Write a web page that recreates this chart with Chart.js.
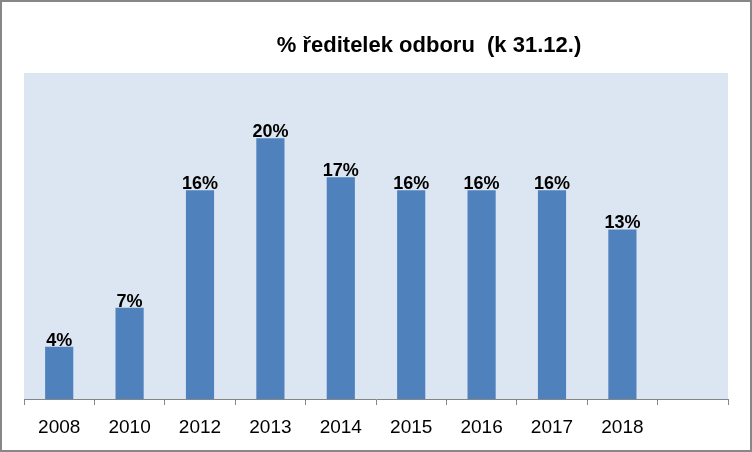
<!DOCTYPE html>
<html>
<head>
<meta charset="utf-8">
<script src="https://cdn.jsdelivr.net/npm/chart.js@4"></script>
<style>
  html, body { margin: 0; padding: 0; background: #fff; }
  #wrap { width: 752px; height: 452px; box-sizing: border-box; border: 2px solid #878787; }
  canvas { display: block; }
</style>
</head>
<body>
<div id="wrap"><canvas id="chart" width="748" height="448"></canvas></div>
<script>
const TITLE = '% ředitelek odboru  (k 31.12.)'
const years = ['2008', '2010', '2012', '2013', '2014', '2015', '2016', '2017', '2018', '']
const shares = [4, 7, 16, 20, 17, 16, 16, 16, 13, null]

const FONT = '"Liberation Sans", Arial, sans-serif'

const plotBg = {
  id: 'plotBg',
  beforeDraw(chart) {
    const { ctx, chartArea: a } = chart
    ctx.save()
    ctx.fillStyle = '#dce6f2'
    ctx.fillRect(a.left, a.top, a.right - a.left, a.bottom - a.top)
    ctx.restore()
  },
}

const labelsAndTitle = {
  id: 'labelsAndTitle',
  afterDatasetsDraw(chart) {
    const { ctx } = chart
    ctx.save()
    ctx.fillStyle = '#000'
    ctx.textAlign = 'center'
    ctx.textBaseline = 'bottom'
    ctx.font = 'bold 18px ' + FONT
    chart.getDatasetMeta(0).data.forEach((bar, i) => {
      if (shares[i] == null) return
      ctx.fillText(shares[i] + '%', bar.x, bar.y + 3)
    })
    ctx.font = 'bold 22px ' + FONT
    ctx.textBaseline = 'middle'
    ctx.fillText(TITLE, 427, 44)
    ctx.restore()
  },
}

new Chart(document.getElementById('chart'), {
  type: 'bar',
  data: {
    labels: years,
    datasets: [{
      data: shares,
      backgroundColor: '#4f81bd',
      categoryPercentage: 1,
      barPercentage: 0.4,
    }],
  },
  options: {
    responsive: false,
    animation: false,
    layout: { padding: { left: 22, right: 22, top: 71, bottom: 0 } },
    plugins: { legend: { display: false }, tooltip: { enabled: false }, title: { display: false } },
    scales: {
      x: {
        offset: true,
        grid: { offset: true, drawOnChartArea: false, tickLength: 6, color: '#868686' },
        border: { color: '#868686' },
        ticks: { color: '#000', font: { family: FONT, size: 19 }, padding: 11, maxRotation: 0 },
        afterFit(scale) { scale.height = 51 },
      },
      y: { display: false, min: 0, max: 25 },
    },
  },
  plugins: [plotBg, labelsAndTitle],
})
</script>
</body>
</html>
